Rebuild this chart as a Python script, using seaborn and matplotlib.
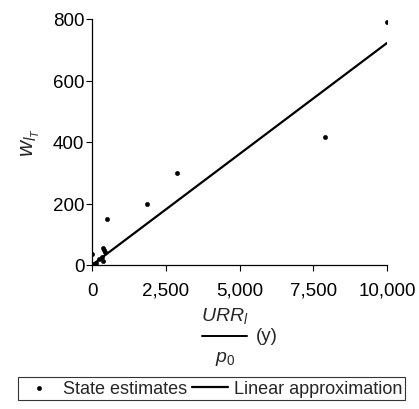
import numpy as np
import pandas as pd
import matplotlib
matplotlib.use("Agg")
import matplotlib.pyplot as plt
import seaborn as sns
from matplotlib.ticker import FuncFormatter
from matplotlib.lines import Line2D

# State estimates
urr_p0 = [10000, 7900, 2880, 1860, 510, 0, 360, 410, 440, 330, 380, 45, 150, 250]
w_lt = [790, 416, 298, 197, 150, 37, 54, 50, 41, 25, 14, 3, 8, 18]

# Linear approximation end points
line_x = [0, 10000]
line_y = [0, 722]

pts = pd.DataFrame({"x": urr_p0, "y": w_lt})
lin = pd.DataFrame({"x": line_x, "y": line_y})

sns.set_style("ticks")
plt.rcParams["font.family"] = ["Liberation Sans", "DejaVu Sans"]
plt.rcParams["mathtext.fontset"] = "custom"
plt.rcParams["mathtext.rm"] = "Liberation Sans"
plt.rcParams["mathtext.it"] = "Liberation Sans:italic"

W, H = 419, 410
fig = plt.figure(figsize=(W / 100, H / 100), dpi=100)
ax = fig.add_axes([92 / W, 1 - 266 / H, 295 / W, 246 / H])

sns.scatterplot(data=pts, x="x", y="y", ax=ax, color="black", s=10,
                marker="o", edgecolor="black", linewidth=0.3,
                label="State estimates")
sns.lineplot(data=lin, x="x", y="y", ax=ax, color="black", linewidth=1.6,
             label="Linear approximation")

ax.set_xlim(0, 10000)
ax.set_ylim(0, 800)
ax.set_xticks([0, 2500, 5000, 7500, 10000])
ax.set_yticks([0, 200, 400, 600, 800])
ax.xaxis.set_major_formatter(FuncFormatter(lambda v, p: f"{int(v):,}"))
ax.tick_params(labelsize=13.5, length=4, width=0.8, colors="black")
ax.tick_params(axis="x", pad=8.0)
ax.tick_params(axis="y", pad=1.5)
for s in ["left", "bottom"]:
    ax.spines[s].set_linewidth(0.9)
    ax.spines[s].set_color("black")
sns.despine(ax=ax)

ax.set_ylabel(r"$w_{l_T}$", fontsize=16, labelpad=8)
ax.set_xlabel("")

# fraction-style x label: URR_l / p_0 (y)
fig.text(225 / W, 1 - 321 / H, r"$URR_l$", fontsize=14, ha="center",
         va="baseline")
fig.text(225 / W, 1 - 362 / H, r"$p_0$", fontsize=14, ha="center",
         va="baseline")
fig.add_artist(Line2D([202 / W, 247 / W], [1 - 337 / H, 1 - 337 / H],
                      color="black", linewidth=1.4,
                      transform=fig.transFigure))
fig.text(256 / W, 1 - 337 / H, "(y)", fontsize=13.5, ha="left", va="center")

ax.get_legend().remove()
h, l = ax.get_legend_handles_labels()
leg = fig.legend(h, l, loc="center", ncol=2,
                 fontsize=13, frameon=True, fancybox=False, edgecolor="black",
                 handlelength=2.0, columnspacing=0.3, handletextpad=0.3,
                 borderpad=0.15, borderaxespad=0,
                 bbox_to_anchor=(211.5 / W, 1 - 389.5 / H),
                 bbox_transform=fig.transFigure)
leg.get_frame().set_linewidth(0.8)

fig.savefig("out.png", dpi=100)
